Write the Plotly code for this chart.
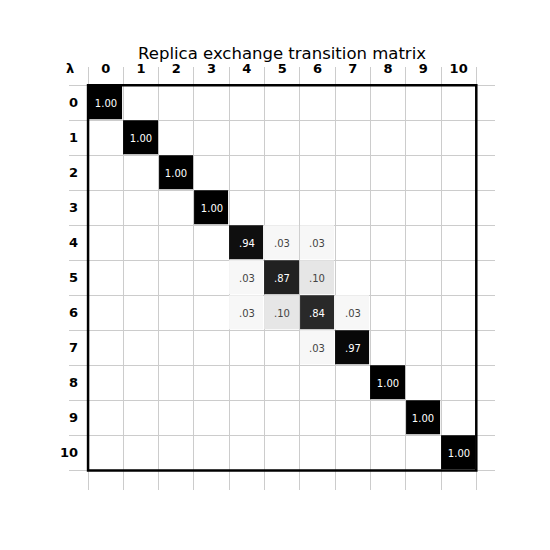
import plotly.graph_objects as go

labels = [str(i) for i in range(11)]
title_text = "Replica exchange transition matrix"
corner_label = "λ"

# transition probabilities, rows = from state, cols = to state
matrix = [
    [1.00, 0, 0, 0, 0, 0, 0, 0, 0, 0, 0],
    [0, 1.00, 0, 0, 0, 0, 0, 0, 0, 0, 0],
    [0, 0, 1.00, 0, 0, 0, 0, 0, 0, 0, 0],
    [0, 0, 0, 1.00, 0, 0, 0, 0, 0, 0, 0],
    [0, 0, 0, 0, 0.94, 0.03, 0.03, 0, 0, 0, 0],
    [0, 0, 0, 0, 0.03, 0.87, 0.10, 0, 0, 0, 0],
    [0, 0, 0, 0, 0.03, 0.10, 0.84, 0.03, 0, 0, 0],
    [0, 0, 0, 0, 0, 0, 0.03, 0.97, 0, 0, 0],
    [0, 0, 0, 0, 0, 0, 0, 0, 1.00, 0, 0],
    [0, 0, 0, 0, 0, 0, 0, 0, 0, 1.00, 0],
    [0, 0, 0, 0, 0, 0, 0, 0, 0, 0, 1.00],
]

n = len(labels)
idx = list(range(n))

z = [[(v if v > 0 else None) for v in row] for row in matrix]


def fmt(v):
    if v <= 0:
        return ""
    s = f"{v:.2f}"
    return s[1:] if s.startswith("0") else s


text = [[fmt(v) for v in row] for row in matrix]

fig = go.Figure(
    go.Heatmap(
        z=z,
        x=idx,
        y=idx,
        text=text,
        texttemplate="%{text}",
        textfont=dict(family="DejaVu Sans", size=10),
        colorscale=[[0, "#ffffff"], [1, "#000000"]],
        zmin=0,
        zmax=1,
        showscale=False,
        xgap=1,
        ygap=1,
        hoverinfo="skip",
    )
)

half = [i - 0.5 for i in range(n + 1)]
grid_color = "#cccccc"
tick_font = dict(family="DejaVu Sans", size=13, color="#000000", weight="bold")

fig.update_xaxes(
    range=[-1.04, n - 1 + 1.03],
    side="top",
    tickmode="array",
    tickvals=idx,
    ticktext=labels,
    ticks="",
    showgrid=False,
    zeroline=False,
    showline=False,
    tickfont=tick_font,
    ticklabelstandoff=-10,
    minor=dict(tickvals=half, showgrid=True, gridcolor=grid_color, gridwidth=1, ticks=""),
)
fig.update_yaxes(
    range=[n - 1 + 1.06, -1.02],
    tickmode="array",
    tickvals=idx,
    ticktext=labels,
    ticks="",
    showgrid=False,
    zeroline=False,
    showline=False,
    tickfont=tick_font,
    ticklabelstandoff=-10,
    minor=dict(tickvals=half, showgrid=True, gridcolor=grid_color, gridwidth=1, ticks=""),
)

fig.add_shape(
    type="rect",
    xref="x",
    yref="y",
    x0=-0.5,
    x1=n - 0.5,
    y0=-0.5,
    y1=n - 0.5,
    line=dict(color="#000000", width=2.5),
    layer="above",
)

fig.add_annotation(
    text=corner_label,
    xref="paper",
    yref="paper",
    x=0.003,
    y=0.996,
    showarrow=False,
    font=dict(family="DejaVu Sans", size=13, color="#000000", weight="bold"),
    xanchor="center",
    yanchor="middle",
)

fig.update_layout(
    width=550,
    height=550,
    margin=dict(l=69, r=55, t=67, b=60),
    paper_bgcolor="#ffffff",
    plot_bgcolor="#ffffff",
    title=dict(
        text=title_text,
        x=0.5128,
        xanchor="center",
        y=1 - 53 / 550,
        yanchor="middle",
        yref="container",
        font=dict(family="DejaVu Sans", size=16.5, color="#000000"),
    ),
    showlegend=False,
)

fig.write_html("out.html")
